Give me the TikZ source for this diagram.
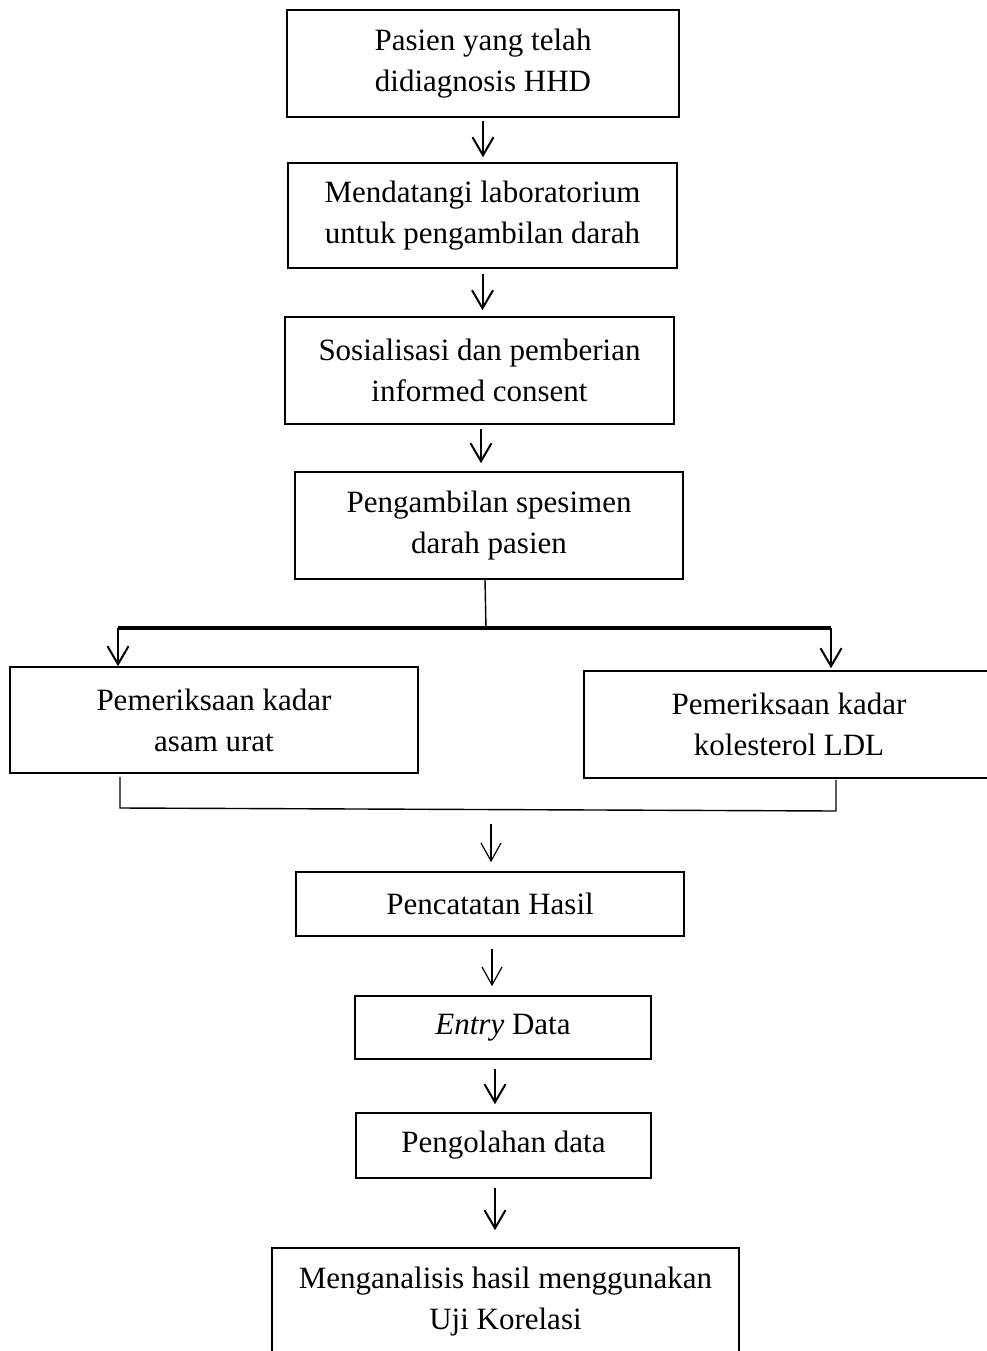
\documentclass[tikz,border=0pt]{standalone}
\usepackage{fontspec}
\setmainfont{Liberation Serif}
\usetikzlibrary{arrows.meta}
\begin{document}
\begin{tikzpicture}[x=1pt,y=-1pt,
  box/.style={draw, line width=1.6pt, align=center, inner sep=0pt,
    font=\fontsize{31}{41}\selectfont},
  arr/.style={line width=2pt, -{Straight Barb[length=18pt,width=21pt,line width=2pt]}},
  thinarr/.style={line width=1.2pt, -{Straight Barb[length=18pt,width=20pt,line width=1.2pt]}},
  link/.style={line width=1.4pt}]
\useasboundingbox (0,0) rectangle (987,1351);
\clip (0,0) rectangle (987,1351);

\node[box, minimum width=392pt, minimum height=107pt] (b1) at (483,63.5) {Pasien yang telah\\didiagnosis HHD};
\node[box, minimum width=389pt, minimum height=105pt] (b2) at (482.5,215.5) {Mendatangi laboratorium\\untuk pengambilan darah};
\node[box, minimum width=389pt, minimum height=107pt] (b3) at (479.5,370.5) {Sosialisasi dan pemberian\\informed consent};
\node[box, minimum width=388pt, minimum height=107pt] (b4) at (489,525.5) {Pengambilan spesimen\\darah pasien};
\node[box, minimum width=408pt, minimum height=106pt] (b5) at (214,720) {Pemeriksaan kadar\\asam urat};
\node[box, minimum width=410pt, minimum height=107pt] (b6) at (789,724.5) {Pemeriksaan kadar\\kolesterol LDL};
\node[box, minimum width=388pt, minimum height=64pt] (b7) at (490,904) {Pencatatan Hasil};
\node[box, minimum width=296pt, minimum height=63pt] (b8) at (503,1027.5) {\textit{Entry} Data};
\node[box, minimum width=295pt, minimum height=65pt] (b9) at (503.5,1145.5) {Pengolahan data};
\node[box, minimum width=467pt, minimum height=107pt] (b10) at (505.5,1301.5) {Menganalisis hasil menggunakan\\Uji Korelasi};

\draw[arr, shorten <=3pt, shorten >=5pt] (b1.south) -- (b1.south |- b2.north);
\draw[arr, shorten <=5pt, shorten >=6pt] (b2.south) -- (b2.south |- b3.north);
\draw[arr, shorten <=4pt, shorten >=8pt] ([xshift=1.5pt]b3.south) -- ([xshift=1.5pt]b3.south |- b4.north);

\coordinate (j) at (486,628);
\coordinate (jl) at (118,628);
\coordinate (jr) at (831,628);
\draw[link] ([xshift=-4pt]b4.south) -- (j);
\draw[line width=3.5pt] (jl) -- (jr);
\draw[arr] (jl) -- (jl |- b5.north);
\draw[arr, shorten >=2pt] (jr) -- (jr |- b6.north);

\coordinate (cl) at (120,808);
\coordinate (cr) at (836,811);
\draw[link] (cl |- b5.south) ++(0,3) -- (cl) -- (cr) -- ([yshift=-1pt]cr |- b6.south);

\coordinate (m) at (491,824);
\draw[thinarr, shorten >=9pt] (m) -- (m |- b7.north);
\draw[thinarr, shorten <=12pt, shorten >=9pt] ([xshift=2pt]b7.south) -- ([xshift=2pt]b7.south |- b8.north);
\draw[arr, shorten <=9pt, shorten >=8pt] ([xshift=-8pt]b8.south) -- ([xshift=-8pt]b8.south |- b9.north);
\draw[arr, shorten <=9pt, shorten >=17pt] ([xshift=-8.5pt]b9.south) -- ([xshift=-8.5pt]b9.south |- b10.north);
\end{tikzpicture}
\end{document}
